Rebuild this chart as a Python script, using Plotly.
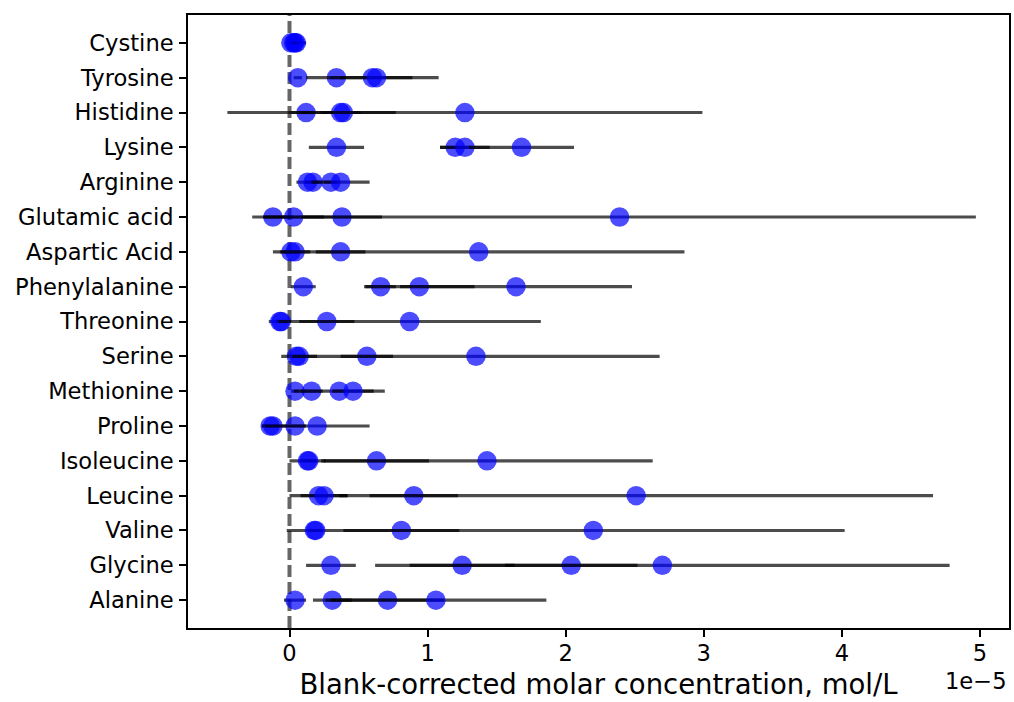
import plotly.graph_objects as go

# Amino acids, listed top to bottom as they appear on the y axis
amino_acids = [
    "Cystine", "Tyrosine", "Histidine", "Lysine", "Arginine", "Glutamic acid",
    "Aspartic Acid", "Phenylalanine", "Threonine", "Serine", "Methionine",
    "Proline", "Isoleucine", "Leucine", "Valine", "Glycine", "Alanine",
]

# Blank-corrected concentrations of four samples, in units of 1e-5 mol/L
sample_1 = [0.01, 0.06, 0.12, 0.34, 0.13, -0.12, 0.01, 0.10, -0.07, 0.05, 0.04, -0.14, 0.13, 0.21, 0.18, 0.30, 0.04]
sample_2 = [0.03, 0.34, 0.37, 1.20, 0.17, 0.03, 0.04, 0.66, -0.06, 0.07, 0.16, -0.12, 0.14, 0.25, 0.19, 1.25, 0.31]
sample_3 = [0.05, 0.60, 0.39, 1.27, 0.30, 0.38, 0.37, 0.94, 0.27, 0.56, 0.36, 0.04, 0.63, 0.90, 0.81, 2.04, 0.71]
sample_4 = [0.04, 0.63, 1.27, 1.68, 0.37, 2.39, 1.37, 1.64, 0.87, 1.35, 0.46, 0.20, 1.43, 2.51, 2.20, 2.70, 1.06]

# Uncertainties (same units)
err_1 = [0.02, 0.03, 0.05, 0.20, 0.08, 0.15, 0.05, 0.09, 0.08, 0.04, 0.03, 0.06, 0.13, 0.21, 0.20, 0.18, 0.08]
err_2 = [0.05, 0.05, 0.145, 0.11, 0.06, 0.22, 0.11, 0.11, 0.04, 0.13, 0.08, 0.08, 0.06, 0.17, 0.05, 0.38, 0.14]
err_3 = [0.07, 0.48, 0.38, 0.18, 0.05, 0.29, 0.18, 0.40, 0.20, 0.19, 0.33, 0.08, 0.38, 0.32, 0.42, 0.48, 0.41]
err_4 = [0.02, 0.26, 1.72, 0.38, 0.21, 2.58, 1.49, 0.84, 0.95, 1.33, 0.15, 0.38, 1.20, 2.15, 1.82, 2.08, 0.80]

x_ticks = [0, 1, 2, 3, 4, 5]

FONT = "DejaVu Sans"

fig = go.Figure()

for vals, errs in [(sample_1, err_1), (sample_2, err_2), (sample_3, err_3), (sample_4, err_4)]:
    fig.add_trace(go.Scatter(
        x=vals,
        y=amino_acids,
        mode="markers",
        marker=dict(size=19.5, color="rgba(0,0,255,0.7)", line=dict(width=0)),
        error_x=dict(type="data", array=errs, visible=True,
                     color="rgba(0,0,0,0.7)", thickness=3.2, width=0),
        showlegend=False,
        hoverinfo="x+y",
    ))

# Zero reference line
fig.add_shape(type="line", x0=0, x1=0, xref="x", y0=0, y1=1, yref="paper",
              line=dict(color="rgba(0,0,0,0.6)", width=4, dash="12px,5px"),
              layer="below")

fig.update_xaxes(
    range=[-0.735, 5.21],
    tickvals=x_ticks,
    ticktext=[str(t) for t in x_ticks],
    ticks="outside", ticklen=7, tickwidth=1.7, tickcolor="black",
    ticklabelstandoff=-3,
    showline=True, linecolor="black", linewidth=1.7, mirror=True,
    showgrid=False, zeroline=False,
    tickfont=dict(family=FONT, size=22.6, color="black"),
    title=dict(text="Blank-corrected molar concentration, mol/L",
               font=dict(family=FONT, size=27.5, color="black"), standoff=10),
)
fig.update_yaxes(
    type="category",
    categoryorder="array",
    categoryarray=amino_acids[::-1],
    range=[-0.8, 16.8],
    ticks="outside", ticklen=7, tickwidth=1.7, tickcolor="black",
    ticklabelstandoff=1,
    showline=True, linecolor="black", linewidth=1.7, mirror=True,
    showgrid=False, zeroline=False,
    tickfont=dict(family=FONT, size=22.6, color="black"),
)

# Offset exponent for the x axis
fig.add_annotation(text="1e\u22125", xref="paper", yref="paper", x=1.0, y=-0.087,
                   xanchor="right", yanchor="middle", showarrow=False,
                   font=dict(family=FONT, size=22.6, color="black"))

fig.update_layout(
    width=1014, height=702,
    margin=dict(l=188, r=3, t=15, b=74),
    plot_bgcolor="white", paper_bgcolor="white",
)

fig.write_html("out.html")
